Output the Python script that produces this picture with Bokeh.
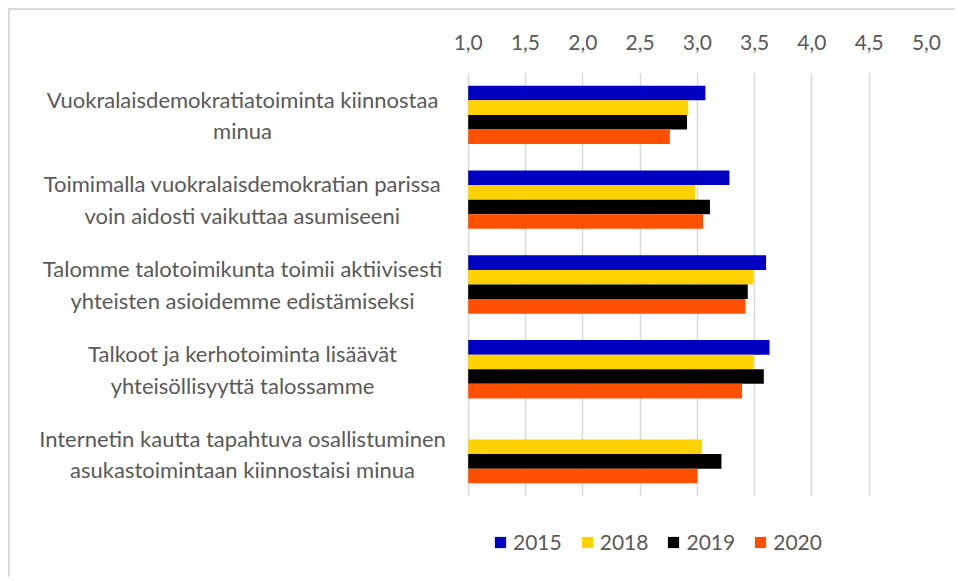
import math
from bokeh.plotting import figure
from bokeh.models import Range1d, FixedTicker, Legend, LegendItem, ColumnDataSource
from bokeh.transform import dodge
from bokeh.core.properties import value
from bokeh.embed import file_html
from bokeh.resources import INLINE

categories = [
    "Vuokralaisdemokratiatoiminta kiinnostaa\nminua",
    "Toimimalla vuokralaisdemokratian parissa\nvoin aidosti vaikuttaa asumiseeni",
    "Talomme talotoimikunta toimii aktiivisesti\nyhteisten asioidemme edistämiseksi",
    "Talkoot ja kerhotoiminta lisäävät\nyhteisöllisyyttä talossamme",
    "Internetin kautta tapahtuva osallistuminen\nasukastoimintaan kiinnostaisi minua",
]
years = ["2015", "2018", "2019", "2020"]
v2015 = [3.07, 3.28, 3.60, 3.63, float("nan")]
v2018 = [2.92, 2.98, 3.49, 3.49, 3.04]
v2019 = [2.91, 3.11, 3.44, 3.58, 3.21]
v2020 = [2.76, 3.05, 3.42, 3.39, 3.00]
colors = ["#0000C0", "#FFD200", "#000000", "#FF5000"]
ticks = [1.0, 1.5, 2.0, 2.5, 3.0, 3.5, 4.0, 4.5, 5.0]
tick_labels = ["1,0", "1,5", "2,0", "2,5", "3,0", "3,5", "4,0", "4,5", "5,0"]

FONT = "Lato"
TXT = "#595959"

n = len(categories)
pos = list(range(n))  # group index, top to bottom
src = ColumnDataSource(dict(cat=categories, pos=pos, y2015=v2015, y2018=v2018, y2019=v2019, y2020=v2020))

p = figure(width=946, height=569, output_backend="svg", toolbar_location=None,
           y_range=Range1d(5.479, -0.5),
           x_range=Range1d(-2.995, 5.0),
           x_axis_location="above", y_axis_location=None,
           min_border_left=0, min_border_right=30, min_border_top=62, min_border_bottom=0)
p.styles = {"border-top": "2px solid #d9d9d9", "border-left": "2px solid #d9d9d9",
            "margin-top": "8px", "margin-left": "8px"}
p.outline_line_color = None
p.background_fill_color = "white"
p.border_fill_color = "white"

p.ygrid.visible = False
p.xgrid.ticker = FixedTicker(ticks=ticks)
p.xgrid.grid_line_color = "#d9d9d9"
p.xgrid.grid_line_width = 1.5
p.xgrid.cross_bounds = (-0.5, n - 0.5)

ax = p.xaxis[0]
ax.ticker = FixedTicker(ticks=ticks)
ax.major_label_overrides = {t: l for t, l in zip(ticks, tick_labels)}
ax.axis_line_color = None
ax.major_tick_line_color = None
ax.minor_tick_line_color = None
ax.major_label_text_font = FONT
ax.major_label_text_font_size = "21px"
ax.major_label_text_color = TXT
ax.major_label_standoff = 17

bar_h = 0.172
offsets = [-1.5 * bar_h, -0.5 * bar_h, 0.5 * bar_h, 1.5 * bar_h]
cols = ["y2015", "y2018", "y2019", "y2020"]
items = []
for yr, col, off, c in zip(years, cols, offsets, colors):
    r = p.hbar(y=dodge("pos", off), left=1.0, right=col, height=bar_h,
               source=src, fill_color=c, line_color=None)
    items.append(LegendItem(label=yr, renderers=[r]))

p.text(x=-0.97, y="pos", text="cat", source=src, text_align="center", text_baseline="middle",
       text_font=value(FONT), text_font_size="22px", text_color=TXT, text_line_height=1.17)

leg = Legend(items=items, orientation="horizontal", location=(483, 25))
leg.border_line_color = None
leg.background_fill_alpha = 0
leg.padding = 0
leg.margin = 0
leg.glyph_width = 14
leg.glyph_height = 14
leg.label_standoff = 6
leg.spacing = 18
leg.label_text_font = FONT
leg.label_text_font_size = "21px"
leg.label_text_color = TXT
p.add_layout(leg, "center")

open("out.html", "w").write(file_html(p, INLINE))
